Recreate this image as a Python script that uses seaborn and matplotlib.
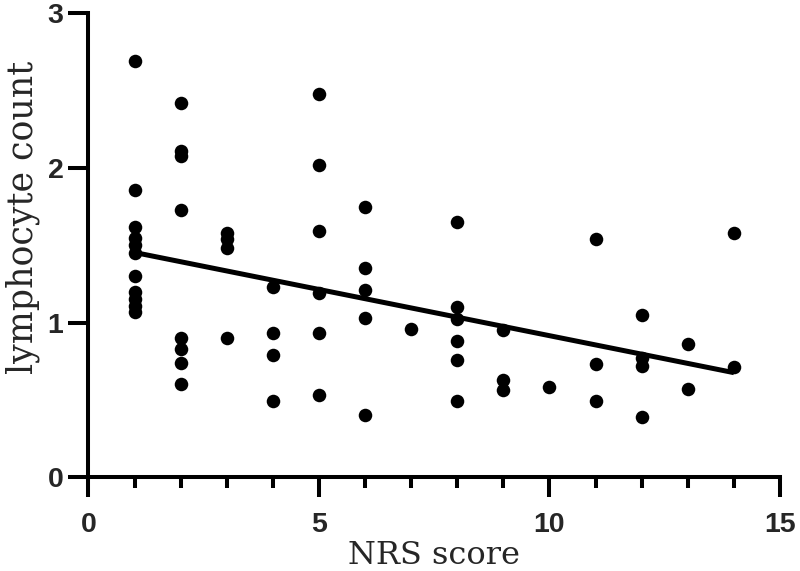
import numpy as np
import pandas as pd
import seaborn as sns
import matplotlib.pyplot as plt
from matplotlib.ticker import MultipleLocator

# NRS score (x) and lymphocyte count (y)
nrs_1 = [2.69, 1.86, 1.62, 1.55, 1.50, 1.45, 1.30, 1.20, 1.15, 1.11, 1.07]
nrs_2 = [2.42, 2.11, 2.08, 1.73, 0.90, 0.83, 0.74, 0.60]
nrs_3 = [1.58, 1.54, 1.48, 0.90]
nrs_4 = [1.23, 0.93, 0.79, 0.49]
nrs_5 = [2.48, 2.02, 1.59, 1.19, 0.93, 0.53]
nrs_6 = [1.75, 1.35, 1.21, 1.03, 0.40]
nrs_7 = [0.96]
nrs_8 = [1.65, 1.10, 1.02, 0.88, 0.76, 0.49]
nrs_9 = [0.95, 0.63, 0.56]
nrs_10 = [0.58]
nrs_11 = [1.54, 0.73, 0.49]
nrs_12 = [1.05, 0.77, 0.72, 0.39]
nrs_13 = [0.86, 0.57]
nrs_14 = [1.58, 0.71]

columns = [nrs_1, nrs_2, nrs_3, nrs_4, nrs_5, nrs_6, nrs_7,
           nrs_8, nrs_9, nrs_10, nrs_11, nrs_12, nrs_13, nrs_14]

x_ticks = [0, 5, 10, 15]
y_ticks = [0, 1, 2, 3]

rows = []
for score, vals in enumerate(columns, start=1):
    for v in vals:
        rows.append({'NRS score': score, 'lymphocyte count': v})
df = pd.DataFrame(rows)

sns.set_style("ticks")
plt.rcParams['font.family'] = ['Liberation Sans', 'DejaVu Sans']

fig = plt.figure(figsize=(8, 5.71), dpi=100)
ax = fig.add_axes([0.1106, 0.1646, 0.8644, 0.8118])

sns.regplot(data=df, x='NRS score', y='lymphocyte count', ax=ax, ci=None,
            color='black', truncate=True,
            scatter_kws={'s': 95, 'alpha': 1, 'linewidths': 0},
            line_kws={'linewidth': 3.6, 'solid_capstyle': 'butt'})

ax.set_xlim(0, 15)
ax.set_ylim(0, 3)
ax.set_xticks(x_ticks)
ax.set_yticks(y_ticks)
ax.xaxis.set_minor_locator(MultipleLocator(1))

for side in ['top', 'right']:
    ax.spines[side].set_visible(False)
for side in ['left', 'bottom']:
    ax.spines[side].set_linewidth(2.9)
    ax.spines[side].set_color('black')
    ax.spines[side].set_capstyle('projecting')

ax.tick_params(axis='x', which='major', length=14.5, width=2.9, pad=11, color='black')
ax.tick_params(axis='x', which='minor', length=8, width=2.9, color='black')
ax.tick_params(axis='y', which='major', length=14.5, width=2.9, pad=3.5, color='black')
for lab in ax.get_xticklabels() + ax.get_yticklabels():
    lab.set_fontweight('bold')
    lab.set_fontsize(20.5)

ax.set_xlabel('NRS score', family=['DejaVu Serif'], fontsize=23, labelpad=1)
ax.set_ylabel('lymphocyte count', family=['DejaVu Serif'], fontsize=25)
# the label sits a bit above the middle of the axis in the original
ax.yaxis.set_label_coords(-0.07, 0.56)

fig.savefig('out.png', dpi=100)
